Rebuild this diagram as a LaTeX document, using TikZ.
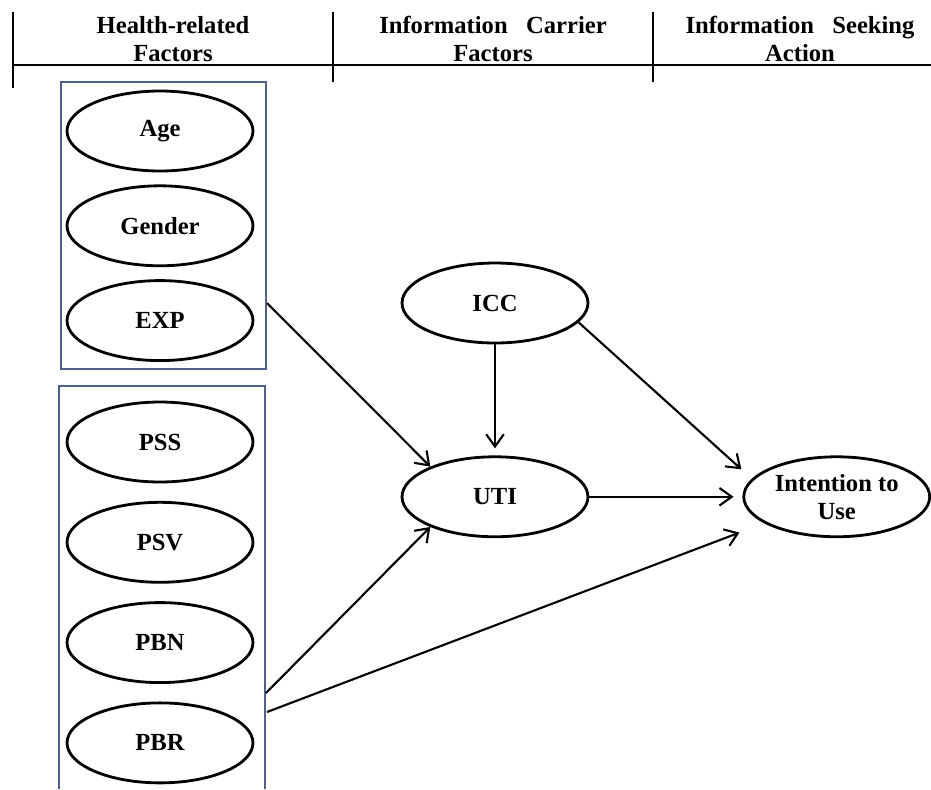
\documentclass[tikz,border=0pt]{standalone}
\usepackage{fontspec}
\setmainfont{Liberation Serif}
\usetikzlibrary{positioning,shapes.geometric,arrows.meta}
\definecolor{framecol}{RGB}{79,98,140}

\begin{document}
\begin{tikzpicture}[x=0.02cm, y=-0.02cm,
	var/.style={ellipse, draw=black, line width=1.6pt, minimum width=3.72cm, minimum height=1.6cm, inner sep=0pt, align=center, font=\fontsize{14}{16}\selectfont\bfseries},
	head/.style={align=center, font=\fontsize{14}{16}\selectfont\bfseries},
	rule/.style={line width=1.1pt},
	frame/.style={draw=framecol, line width=0.9pt},
	arr/.style={-{Straight Barb[length=7pt,width=10pt]}, line width=1.2pt}
	]
	\useasboundingbox (0,0) rectangle (931,789);

	\node (hhealth) [head] at (173,39) {Health-related\\Factors};
	\node (hcarrier) [head] at (493,39) {Information\hspace{0.5em} Carrier\\Factors};
	\node (hseeking) [head] at (800,39) {Information\hspace{0.5em} Seeking\\Action};

	\draw [rule] (13,65) -- (931,65);
	\draw [rule] (13,12) -- (13,88);
	\draw [rule] (333,12) -- (333,82);
	\draw [rule] (653,12) -- (653,82);

	\draw [frame] (61,82) rectangle (266,369);
	\draw [frame] (59,789) |- (265,386) -- (265,789);

	\node (age) [var] at (160,131) {Age};
		\node (gender) [var, below=0.24cm of age] {Gender};
		\node (exp) [var, below=0.24cm of gender] {EXP};

	\node (pss) [var] at (160,442) {PSS};
		\node (psv) [var, below=0.35cm of pss] {PSV};
		\node (pbn) [var, below=0.35cm of psv] {PBN};
		\node (pbr) [var, below=0.35cm of pbn] {PBR};

	\node (icc) [var] at (495,303) {ICC};
		\node (uti) [var, below=2.22cm of icc] {UTI};
		\node (intent) [var, right=3.06cm of uti] {Intention to\\Use};

	\coordinate (expout) at (267,303);
	\coordinate (pbrout) at (266,693);
	\coordinate (pbrlow) at (267,712);

	\draw [arr] (expout) -- (uti.155);
	\draw [arr] (pbrout) -- (uti.205);
	\draw [arr, shorten >=15pt] (pbrlow) -- (intent.200);
	\draw [arr, shorten >=4pt] (icc.south) -- (uti.north);
	\draw [arr, shorten >=8pt] (icc.-13) -- (intent.168);
	\draw [arr, shorten >=5pt] (uti.east) -- (intent.west);

\end{tikzpicture}
\end{document}
